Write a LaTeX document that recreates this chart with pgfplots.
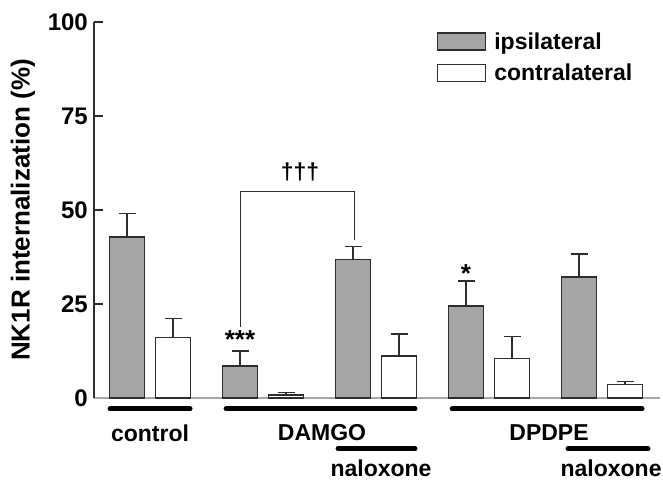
\documentclass[border=0pt]{standalone}
\usepackage{fontspec}
\setmainfont{Liberation Sans}
\usepackage{pgfplots}
\pgfplotsset{compat=1.18}
\usepackage{pgfplotstable}
\definecolor{barg}{RGB}{165,165,165}
\definecolor{edge}{RGB}{45,45,45}
\pgfplotsset{boxlegend/.style={legend image code/.code={\draw[##1, bar width=0pt] (0bp,-8.5bp) rectangle (48bp,8.5bp);}}}
\pgfplotstableread{
x y e
-0.2035 42.8 6.3
0.7965 8.5 4.0
1.7965 36.9 3.3
2.7965 24.5 6.6
3.7965 32.2 6.1
}\ipsi
\pgfplotstableread{
x y e
0.2035 16.1 5.1
1.2035 0.8 0.7
2.2035 11.2 5.8
3.2035 10.5 5.8
4.2035 3.6 0.8
}\contra
\begin{document}
\begin{tikzpicture}
\begin{axis}[
  name=ax,
  scale only axis, width=566bp, height=376bp,
  xmin=-0.496, xmax=4.513, ymin=0, ymax=100,
  axis lines*=left,
  x axis line style={draw=gray!70, line width=1.2bp},
  y axis line style={draw=edge, line width=1.2bp},
  xtick=\empty, ytick={0,25,50,75,100},
  tick align=inside, major tick length=9bp,
  tick style={draw=edge, line width=1.2bp},
  /pgf/number format/assume math mode=true,
  yticklabel style={font=\bfseries\fontsize{24bp}{26bp}\selectfont, inner sep=0pt, xshift=-6bp},
  every axis y label/.style={at={(rel axis cs:0,0.5)}, xshift=-71bp, rotate=90, anchor=center, font=\bfseries\fontsize{26bp}{28bp}\selectfont},
  ylabel={NK1R internalization (\%)},
  clip=false,
  ybar, bar width=34.5bp,
  legend style={at={(axis cs:2.538,97.8)}, anchor=north west, draw=none, fill=none,
     font=\bfseries\fontsize{23bp}{26bp}\selectfont, inner sep=0pt, row sep=9bp, column sep=6bp},
  legend cell align=left,
]
\addplot[bar shift=0pt, fill=barg, draw=edge, line width=1.3bp, boxlegend,
  error bars/.cd, y dir=plus, y explicit,
  error bar style={line width=1.3bp, draw=edge},
  error mark options={rotate=90, mark size=8.5bp, line width=1.3bp, draw=edge}]
  table[x=x, y=y, y error=e] {\ipsi};
\addlegendentry{ipsilateral}
\addplot[bar shift=0pt, fill=white, draw=edge, line width=1.3bp, boxlegend,
  error bars/.cd, y dir=plus, y explicit,
  error bar style={line width=1.3bp, draw=edge},
  error mark options={rotate=90, mark size=8.5bp, line width=1.3bp, draw=edge}]
  table[x=x, y=y, y error=e] {\contra};
\addlegendentry{contralateral}
% significance bracket
\draw[edge, line width=1bp] (axis cs:0.7965,18.9) -- (axis cs:0.7965,54.8) -- (axis cs:1.805,54.8) -- (axis cs:1.805,42);
\node[font=\bfseries\fontsize{23bp}{26bp}\selectfont] at (axis cs:1.327,60) {†††};
\node[font=\bfseries\fontsize{26bp}{26bp}\selectfont] at (axis cs:0.7965,15.6) {***};
\node[font=\bfseries\fontsize{26bp}{26bp}\selectfont] at (axis cs:2.7965,33.2) {*};
% group lines
\draw[line width=5bp, line cap=round] (axis cs:-0.354,-2.9) -- (axis cs:0.354,-2.9);
\draw[line width=5bp, line cap=round] (axis cs:0.673,-2.9) -- (axis cs:2.345,-2.9);
\draw[line width=5bp, line cap=round] (axis cs:2.673,-2.9) -- (axis cs:4.354,-2.9);
\draw[line width=5bp, line cap=round] (axis cs:1.664,-13.5) -- (axis cs:2.345,-13.5);
\draw[line width=5bp, line cap=round] (axis cs:3.699,-13.5) -- (axis cs:4.407,-13.5);
\begin{scope}[every node/.style={font=\bfseries\fontsize{23bp}{26bp}\selectfont}]
\node at (axis cs:0,-9.3) {control};
\node at (axis cs:1.522,-9.3) {DAMGO};
\node at (axis cs:3.531,-9.3) {DPDPE};
\node at (axis cs:2.044,-18.6) {naloxone};
\node at (axis cs:4.08,-18.6) {naloxone};
\end{scope}
\end{axis}
\pgfresetboundingbox
\path (ax.south west) ++(-94bp,-87bp) rectangle ++(663bp,485bp);
\end{tikzpicture}
\end{document}
